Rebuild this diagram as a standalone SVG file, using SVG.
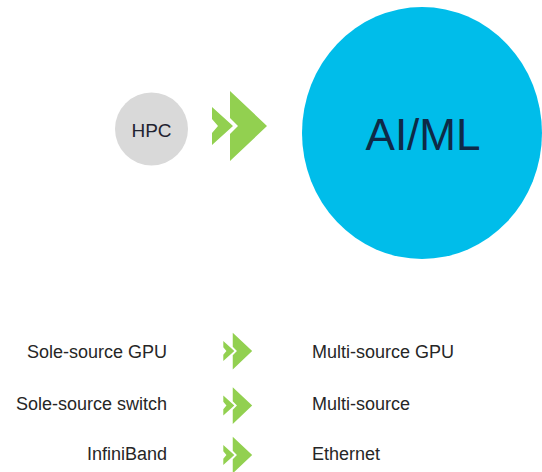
<svg xmlns="http://www.w3.org/2000/svg" xmlns:xlink="http://www.w3.org/1999/xlink" width="542" height="472" viewBox="0 0 542 472">
  <style>
    .lbl { font-family: "Liberation Sans", Arial, sans-serif; font-size: 18px; fill: #262626; }
    .chev { fill: #92d050; }
  </style>
  <defs>
    <g id="dbl">
      <polygon class="chev" points="0,-19 21,0 0,19 0,7 6,0 0,-7"/>
      <polygon class="chev" points="18,-35 55,0 18,35 18,8 26,0 18,-8"/>
    </g>
  </defs>
  <rect width="542" height="472" fill="#ffffff"/>
  <g id="hpc">
    <circle cx="151.5" cy="129" r="36.5" fill="#d9d9d9"/>
    <text x="151.5" y="136.5" text-anchor="middle" font-family="Liberation Sans, Arial, sans-serif" font-size="19" fill="#1f2330">HPC</text>
  </g>
  <g id="aiml">
    <ellipse cx="422" cy="133" rx="120" ry="126" fill="#00bdea"/>
    <text x="423" y="150" text-anchor="middle" font-family="Liberation Sans, Arial, sans-serif" font-size="44" fill="#0e2a47">AI/ML</text>
  </g>
  <g id="connectors">
    <use xlink:href="#dbl" href="#dbl" transform="translate(212,126)"/>
    <use xlink:href="#dbl" href="#dbl" transform="translate(223.3,351) scale(0.525)"/>
    <use xlink:href="#dbl" href="#dbl" transform="translate(223.3,405.5) scale(0.525)"/>
    <use xlink:href="#dbl" href="#dbl" transform="translate(223.3,455) scale(0.525)"/>
  </g>
  <g id="row1">
    <text class="lbl" x="167" y="358" text-anchor="end">Sole-source GPU</text>
    <text class="lbl" x="312" y="358">Multi-source GPU</text>
  </g>
  <g id="row2">
    <text class="lbl" x="167" y="410" text-anchor="end">Sole-source switch</text>
    <text class="lbl" x="312" y="410">Multi-source</text>
  </g>
  <g id="row3">
    <text class="lbl" x="167" y="460" text-anchor="end">InfiniBand</text>
    <text class="lbl" x="312" y="460">Ethernet</text>
  </g>
</svg>
